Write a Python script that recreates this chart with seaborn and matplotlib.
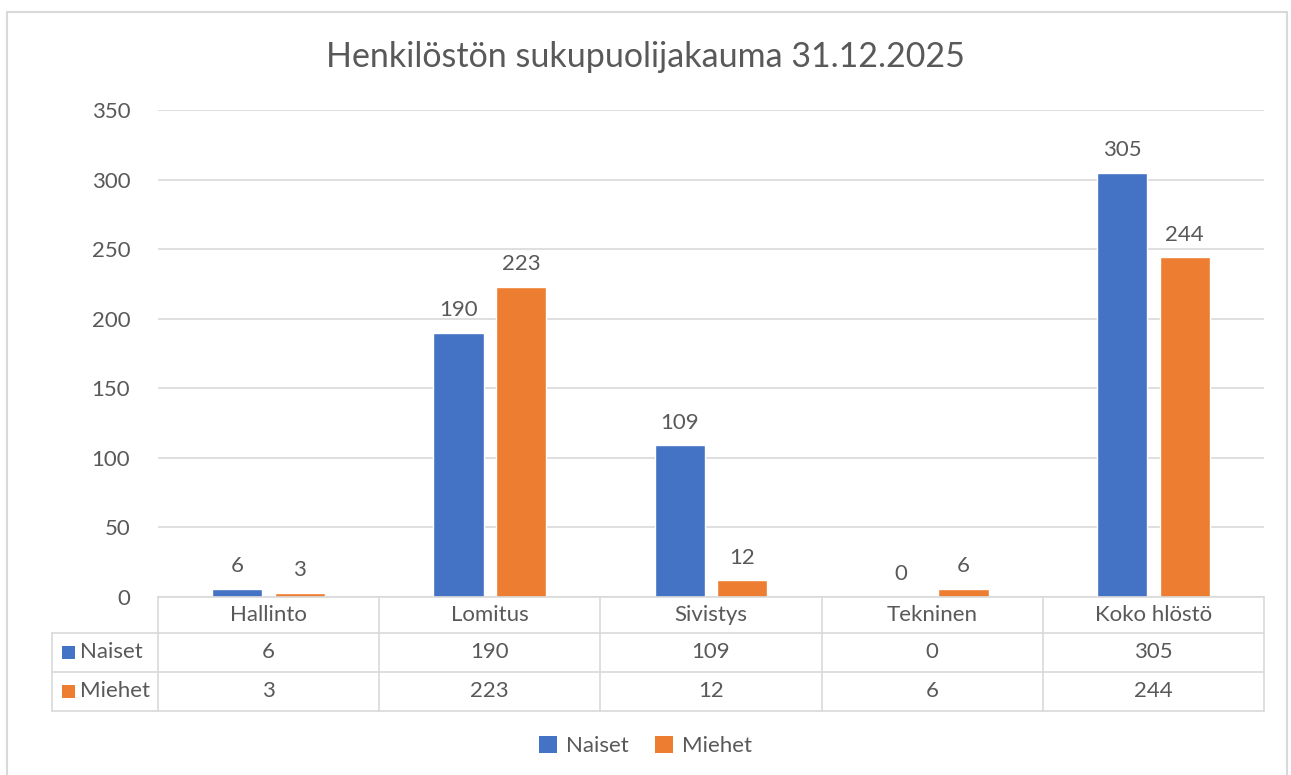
import matplotlib.pyplot as plt
import pandas as pd
import seaborn as sns
from matplotlib.lines import Line2D
from matplotlib.patches import Patch, Rectangle
from matplotlib.transforms import blended_transform_factory

# Data
categories = ['Hallinto', 'Lomitus', 'Sivistys', 'Tekninen', 'Koko hlöstö']
naiset = [6, 190, 109, 0, 305]
miehet = [3, 223, 12, 6, 244]
series = ['Naiset', 'Miehet']
colors = ['#4472C4', '#ED7D31']
title = 'Henkilöstön sukupuolijakauma 31.12.2025'

df = pd.DataFrame({
    'Osasto': categories * 2,
    'Sukupuoli': ['Naiset'] * len(naiset) + ['Miehet'] * len(miehet),
    'Määrä': naiset + miehet,
})

sns.set_style('white')
plt.rcParams['font.family'] = ['Lato', 'DejaVu Sans']
text_color = '#595959'
grid_color = '#d9d9d9'
fs = 16

W, H = 1291, 775
fig = plt.figure(figsize=(W / 100, H / 100), dpi=100)

def fy(py):
    return 1 - py / H

def fx(px):
    return px / W

ax = fig.add_axes([fx(158), fy(597), fx(1264) - fx(158), fy(110) - fy(597)])
sns.barplot(data=df, x='Osasto', y='Määrä', hue='Sukupuoli', hue_order=series,
            palette=colors, saturation=1, width=0.566, gap=0.2, ax=ax, legend=False)

ax.set_xlim(-0.5, len(categories) - 0.5)
ax.set_ylim(0, 350)
ax.set_yticks(range(0, 351, 50))
ax.set_xticks([])
ax.set_xlabel('')
ax.set_ylabel('')
for s in ax.spines.values():
    s.set_visible(False)
ax.yaxis.grid(True, color=grid_color, lw=1.2)
ax.set_axisbelow(True)
ax.tick_params(axis='y', length=0, pad=20, labelsize=fs, labelcolor=text_color)

for cont in ax.containers:
    ax.bar_label(cont, fmt='%d', padding=9, color=text_color, fontsize=fs)

# Title
fig.text(0.5, fy(57), title, ha='center', va='center', fontsize=24.5, color=text_color)

# Data table under the axis
trans = blended_transform_factory(ax.transData, fig.transFigure)
n = len(categories)
row_y = [597, 633, 672, 711]
lab_left = fx(52)
ax_left = fx(158)
ax_right = fx(1264)
lw = 1.2
for py in row_y:
    x0 = ax_left if py == row_y[0] else lab_left
    fig.add_artist(Line2D([x0, ax_right], [fy(py), fy(py)], color=grid_color, lw=lw))
fig.add_artist(Line2D([lab_left, lab_left], [fy(633), fy(711)], color=grid_color, lw=lw))
for i in range(n + 1):
    ln = Line2D([i - 0.5, i - 0.5], [fy(597), fy(711)], color=grid_color, lw=lw,
                transform=trans)
    fig.add_artist(ln)

for i, cat in enumerate(categories):
    fig.text(i, fy(615), cat, transform=trans, ha='center', va='center',
             fontsize=fs, color=text_color)
    fig.text(i, fy(652), str(naiset[i]), transform=trans, ha='center', va='center',
             fontsize=fs, color=text_color)
    fig.text(i, fy(691), str(miehet[i]), transform=trans, ha='center', va='center',
             fontsize=fs, color=text_color)

for name, col, py in zip(series, colors, [652, 691]):
    fig.add_artist(Rectangle((fx(62), fy(py) - 7 / H), 13 / W, 13 / H,
                             facecolor=col, edgecolor='none'))
    fig.text(fx(80), fy(py), name, ha='left', va='center', fontsize=fs, color=text_color)

# Legend
handles = [Patch(facecolor=c, edgecolor='none', label=s) for s, c in zip(series, colors)]
fig.legend(handles=handles, loc='center', bbox_to_anchor=(0.5, fy(746)), ncol=2,
           frameon=False, fontsize=fs, labelcolor=text_color, handlelength=0.8,
           handleheight=0.8, handletextpad=0.4, columnspacing=1.2)

# Chart border
fig.add_artist(Rectangle((fx(7), -0.05), fx(1287) - fx(7), fy(12) + 0.05,
                         fill=False, edgecolor=grid_color, lw=1.5))

fig.savefig('out.png', dpi=100)
